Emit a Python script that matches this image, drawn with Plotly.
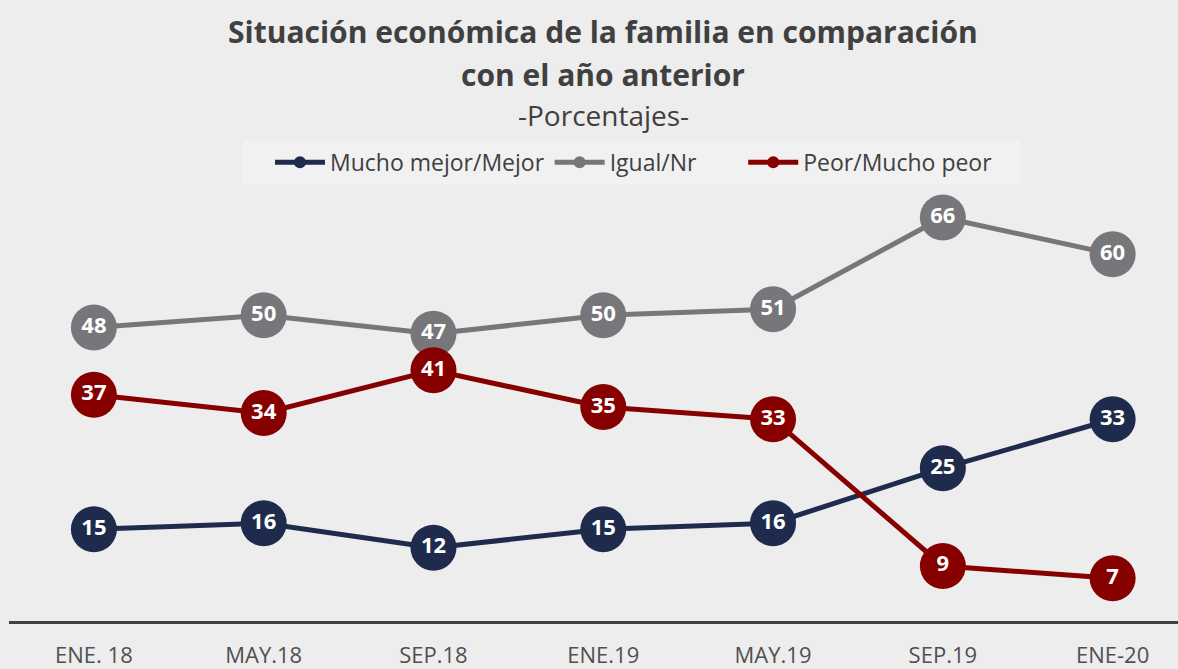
import plotly.graph_objects as go

# Survey periods and series (percentages)
periods = ["ENE. 18", "MAY.18", "SEP.18", "ENE.19", "MAY.19", "SEP.19", "ENE-20"]
mejor = [15, 16, 12, 15, 16, 25, 33]
igual = [48, 50, 47, 50, 51, 66, 60]
peor = [37, 34, 41, 35, 33, 9, 7]

NBSP = "\u00a0"
series = [
    ("Mucho mejor/Mejor", mejor, "#1f2b4d"),
    ("Igual/Nr" + NBSP * 7, igual, "#77777b"),
    ("Peor/Mucho peor", peor, "#860000"),
]

FONT = "Open Sans"
BG = "#ededed"
TOP = 193   # px from top to plot area
PH = 431    # plot area height in px
L = 9       # left margin in px
PW = 1178 - L


def py(px):
    """pixel row -> paper y"""
    return 1 + (TOP - px) / PH


def pxx(px):
    """pixel column -> paper x"""
    return (px - L) / PW


fig = go.Figure()

# Lines + markers (these carry the legend)
for name, vals, color in series:
    fig.add_trace(go.Scatter(
        x=periods, y=vals, name=name, mode="lines+markers",
        line=dict(color=color, width=5),
        marker=dict(size=46, color=color),
        hoverinfo="skip",
    ))

# Value labels on top of every marker
for name, vals, color in series:
    fig.add_trace(go.Scatter(
        x=periods, y=vals, mode="text", text=[str(v) for v in vals],
        textposition="middle center",
        textfont=dict(family=FONT, size=22, color="white", weight="bold"),
        showlegend=False, hoverinfo="skip",
    ))

# Title lines
titles = [
    ("<b>Situación económica de la familia en comparación</b>", 30, 30),
    ("<b>con el año anterior</b>", 74, 30),
    ("-Porcentajes-", 114, 28),
]
for txt, ypx, size in titles:
    fig.add_annotation(x=pxx(603), y=py(ypx), xref="paper", yref="paper",
                       yanchor="middle", showarrow=False, text=txt,
                       font=dict(family=FONT, size=size, color="#404040"))

# lighter panel behind the legend
fig.add_shape(type="rect", xref="paper", yref="paper", layer="below",
              x0=pxx(243), x1=pxx(1020), y0=py(184), y1=py(140),
              fillcolor="#f1f1f1", line=dict(width=0))

fig.update_layout(
    width=1178, height=669,
    paper_bgcolor=BG, plot_bgcolor=BG,
    margin=dict(l=L, r=0, t=TOP, b=669 - TOP - PH),
    font=dict(family=FONT, color="#404040"),
    showlegend=True,
    legend=dict(orientation="h", x=pxx(634), xanchor="center", y=py(162), yanchor="middle",
                bgcolor="rgba(0,0,0,0)", font=dict(family=FONT, size=23, color="#404040"),
                itemsizing="constant", itemwidth=50),
    xaxis=dict(range=[-0.5, 6.385], showgrid=False, zeroline=False, showline=True,
               linecolor="#404040", linewidth=3, ticks="", ticklabelstandoff=13,
               tickfont=dict(family=FONT, size=22, color="#505050")),
    yaxis=dict(range=[0, 70], visible=False, showgrid=False, zeroline=False),
)

fig.write_html("out.html", config={"displayModeBar": False},
               post_script="document.body.style.margin='0';")
